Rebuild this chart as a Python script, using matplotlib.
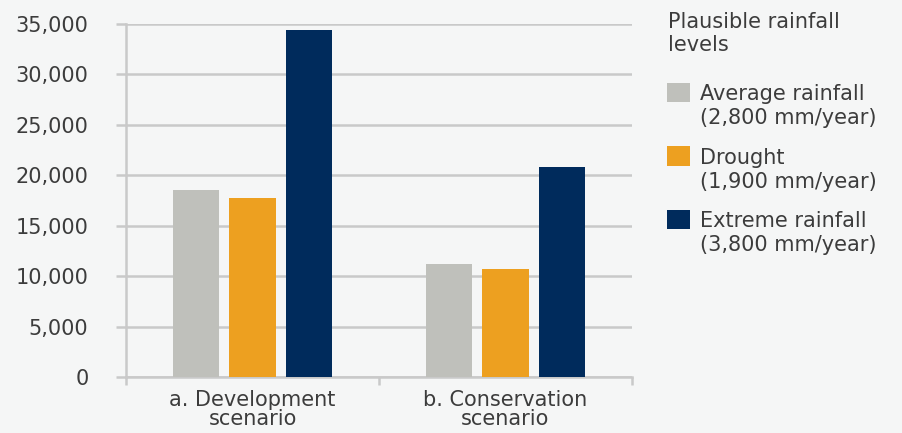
import matplotlib
matplotlib.use("Agg")
import matplotlib.pyplot as plt
import numpy as np
from matplotlib.patches import Rectangle

# data
scenarios = ["a. Development\nscenario", "b. Conservation\nscenario"]
series_names = ["Average rainfall\n(2,800 mm/year)",
                "Drought\n(1,900 mm/year)",
                "Extreme rainfall\n(3,800 mm/year)"]
average = [18500, 11200]
drought = [17700, 10700]
extreme = [34400, 20800]
colors = ["#bfc0bb", "#eda020", "#002b5c"]
yticks = [0, 5000, 10000, 15000, 20000, 25000, 30000, 35000]
legend_title = "Plausible rainfall\nlevels"

bg = "#f5f6f6"
txt = "#3c3c3c"
grid = "#c9c9c9"
fs = 15

plt.rcParams["font.family"] = ["DejaVu Sans"]

fig = plt.figure(figsize=(9.03, 4.33), dpi=100, facecolor=bg)
ax = fig.add_axes([126 / 903, 1 - 377 / 433, (632 - 126) / 903, (377 - 24) / 433])
ax.set_facecolor(bg)

x = np.arange(len(scenarios))
w = 0.1825
step = 0.222
for i, vals in enumerate([average, drought, extreme]):
    ax.bar(x + (i - 1) * step, vals, width=w, color=colors[i], zorder=3)

ax.set_xlim(-0.5, 1.5)
ax.set_ylim(0, 35000)
ax.set_yticks(yticks)
ax.set_yticklabels([f"{v:,}" for v in yticks])
ax.yaxis.grid(True, color=grid, linewidth=1.8, zorder=0)
ax.tick_params(axis="y", length=7, width=1.8, color=grid, pad=20,
               labelsize=fs, labelcolor=txt)

ax.set_xticks([-0.5, 0.5, 1.5])
ax.set_xticklabels(["", "", ""])
ax.set_xticks(x, minor=True)
ax.set_xticklabels(scenarios, minor=True, fontsize=fs, color=txt,
                   linespacing=0.95)
ax.tick_params(axis="x", which="major", length=6, width=1.8, color=grid)
ax.tick_params(axis="x", which="minor", length=0, pad=9)

for s in ["top", "right"]:
    ax.spines[s].set_visible(False)
ax.spines["left"].set_color(grid)
ax.spines["left"].set_linewidth(1.8)
ax.spines["bottom"].set_color(grid)
ax.spines["bottom"].set_linewidth(1.8)

# legend drawn by hand to match placement
fig.text(668 / 903, 1 - 12 / 433, legend_title, fontsize=fs, color=txt,
         va="top", ha="left", linespacing=1.2)
for i, name in enumerate(series_names):
    top = 83 + i * 63.5
    fig.patches.append(Rectangle((667 / 903, 1 - (top + 19) / 433), 23 / 903, 19 / 433,
                                 transform=fig.transFigure, facecolor=colors[i],
                                 edgecolor="none"))
    fig.text(700 / 903, 1 - (top + 1) / 433, name, fontsize=fs, color=txt,
             va="top", ha="left", linespacing=1.25)

fig.savefig("out.png", dpi=100, facecolor=bg)
